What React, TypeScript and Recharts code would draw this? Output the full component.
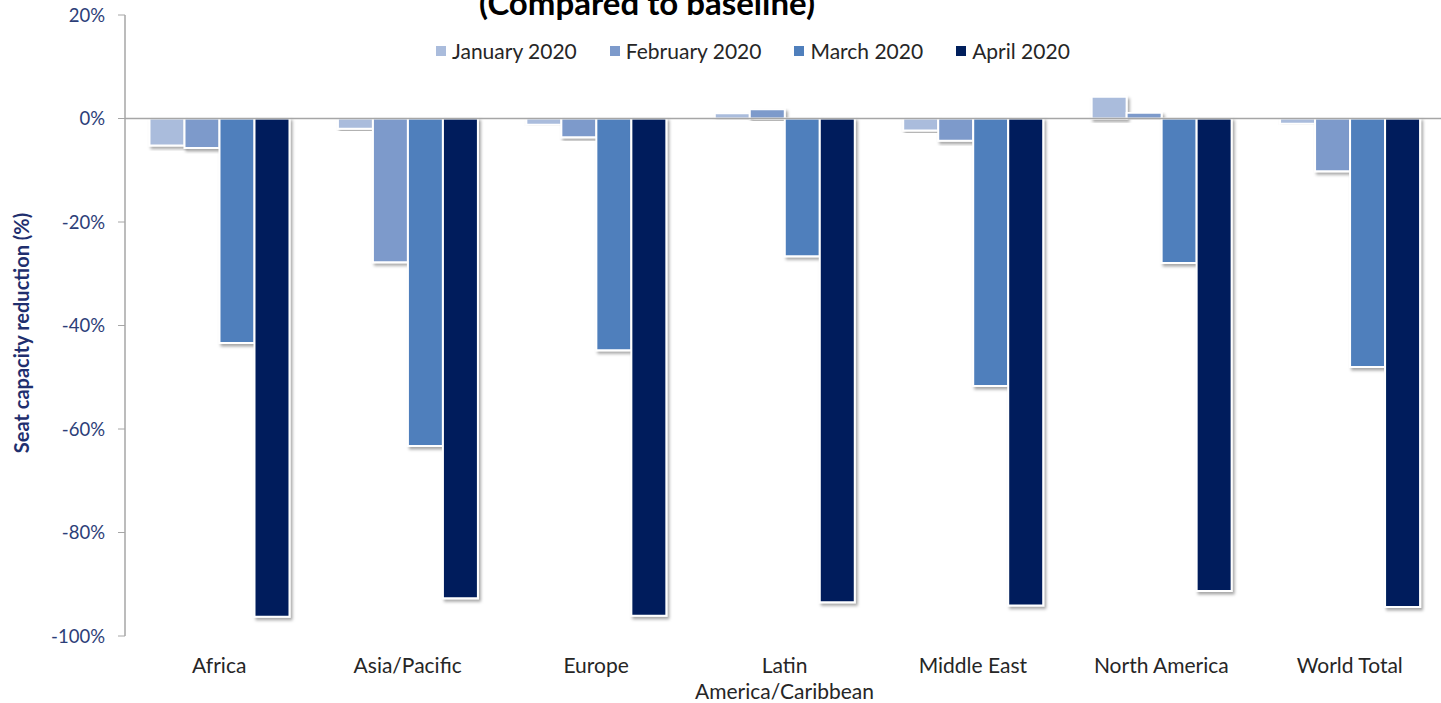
import React from 'react';
import { BarChart, Bar, XAxis, YAxis, Legend, ReferenceLine, Text } from 'recharts';

const regions = [
  'Africa',
  'Asia/Pacific',
  'Europe',
  'Latin America/Caribbean',
  'Middle East',
  'North America',
  'World Total',
];
const jan2020 = [-5.2, -2.0, -1.2, 1.0, -2.3, 4.2, -1.0];
const feb2020 = [-5.7, -27.8, -3.6, 1.8, -4.3, 1.1, -10.2];
const mar2020 = [-43.4, -63.3, -44.8, -26.6, -51.7, -27.9, -48.0];
const apr2020 = [-96.3, -92.7, -96.1, -93.5, -94.1, -91.3, -94.4];

const seriesNames = ['January 2020', 'February 2020', 'March 2020', 'April 2020'];
const seriesKeys = ['jan', 'feb', 'mar', 'apr'];
const seriesColors = ['#aabcdc', '#7d9acb', '#4f7fbc', '#001f5c'];

const yTicks = [-100, -80, -60, -40, -20, 0, 20];

const data = regions.map((region, i) => ({
  region,
  jan: jan2020[i],
  feb: feb2020[i],
  mar: mar2020[i],
  apr: apr2020[i],
}));

const FONT = 'Lato, "Open Sans", sans-serif';

const CategoryTick = (props: any) => {
  const { x, y, payload } = props;
  return (
    <Text
      x={x}
      y={y}
      width={165}
      textAnchor="middle"
      verticalAnchor="start"
      lineHeight={26}
      style={{ fontFamily: FONT, fontSize: 21, fill: '#262626' }}
    >
      {payload.value}
    </Text>
  );
};

const LegendContent = (props: any) => {
  const items = [...(props.payload || [])].sort(
    (a: any, b: any) => seriesNames.indexOf(a.value) - seriesNames.indexOf(b.value)
  );
  return (
    <div style={{ display: 'flex', alignItems: 'center', fontFamily: FONT, fontSize: 21, color: '#262626' }}>
      {items.map((item: any) => (
        <div key={item.value} style={{ display: 'flex', alignItems: 'center', marginRight: 33 }}>
          <span style={{ width: 10, height: 10, background: item.color, display: 'inline-block', marginRight: 6 }} />
          <span>{item.value}</span>
        </div>
      ))}
    </div>
  );
};

const YLabel = () => (
  <text
    x={29}
    y={333}
    transform="rotate(-90, 29, 333)"
    textAnchor="middle"
    style={{ fontFamily: FONT, fontSize: 20, fontWeight: 700, fill: '#1f2f6e' }}
  >
    Seat capacity reduction (%)
  </text>
);

export default function App() {
  return (
    <div style={{ position: 'fixed', left: 0, top: 0, width: 1441, height: 703, overflow: 'hidden', background: '#fff' }}>
      <svg width={1441} height={40} style={{ position: 'absolute', left: 0, top: 0, zIndex: 2 }}>
        <text x={647} y={15} textAnchor="middle" style={{ fontFamily: FONT, fontWeight: 700, fontSize: 33, fill: '#000' }}>
          (Compared to baseline)
        </text>
      </svg>
      <BarChart
        width={1444}
        height={703}
        data={data}
        margin={{ top: 15, right: 0, bottom: 0, left: 0 }}
        barCategoryGap="13%"
        barGap={0}
      >
        <defs>
          <filter id="barShadow" x="-30%" y="-10%" width="160%" height="130%">
            <feDropShadow dx="2" dy="2.5" stdDeviation="1.5" floodColor="#000" floodOpacity="0.35" />
          </filter>
        </defs>
        <XAxis
          dataKey="region"
          height={67}
          axisLine={false}
          tickLine={false}
          tickMargin={16}
          interval={0}
          tick={<CategoryTick />}
        />
        <YAxis
          width={125}
          domain={[-100, 20]}
          ticks={yTicks}
          interval={0}
          tickFormatter={(v: number) => `${v}%`}
          axisLine={{ stroke: '#a6a6a6', strokeWidth: 1.5 }}
          tickLine={{ stroke: '#a6a6a6' }}
          tickSize={7}
          tickMargin={13}
          tick={{ fontFamily: FONT, fontSize: 18.5, fill: '#2c3e78' }}
          label={<YLabel />}
        />
        <Legend
          verticalAlign="middle"
          layout="horizontal"
          content={<LegendContent />}
          wrapperStyle={{ top: 38, left: 436, width: 'auto' }}
        />
        {seriesKeys.map((key, i) => (
          <Bar
            key={key}
            dataKey={key}
            name={seriesNames[i]}
            fill={seriesColors[i]}
            stroke="#ffffff"
            strokeWidth={2}
            filter="url(#barShadow)"
            isAnimationActive={false}
          />
        ))}
        <ReferenceLine y={0} stroke="#a6a6a6" strokeWidth={1.5} />
      </BarChart>
    </div>
  );
}
